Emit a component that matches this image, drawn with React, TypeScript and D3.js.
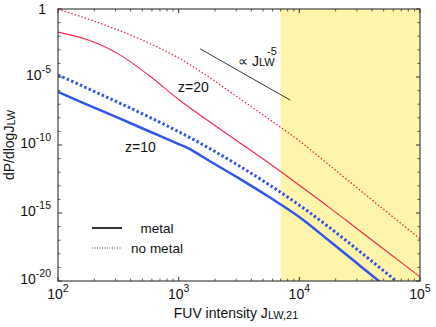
import React from "react";
import * as d3 from "d3";

const J = [100, 178, 316, 562, 1000, 1778, 3162, 5623, 10000, 17783, 31623, 56234, 100000];
const z20NoMetal = [0.97, 0.18, 2.8e-2, 3.2e-3, 2.5e-4, 1.0e-5, 2.8e-7, 7.9e-9, 2.0e-10, 3.2e-12, 5.0e-14, 7.9e-16, 1.26e-17];
const z20Metal = [2.0e-2, 5.2e-3, 5.0e-4, 1.4e-5, 2.2e-7, 5.6e-9, 1.6e-10, 4.5e-12, 1.1e-13, 2.5e-15, 5.0e-17, 1.0e-18, 2.0e-20];
const z10NoMetal = [1.4e-5, 1.4e-6, 1.35e-7, 1.2e-8, 9.5e-10, 6.0e-11, 3.0e-12, 1.2e-13, 3.8e-15, 8.5e-17, 1.5e-18, 2.4e-20, 4e-22];
const z10MetalJ = [100, 178, 316, 562, 1000, 1194, 1445, 1778, 3162, 5623, 10000, 17783, 31623, 56234];
const z10Metal = [8e-7, 8.7e-8, 9.8e-9, 1.07e-9, 1.17e-10, 6.0e-11, 2.2e-11, 7.2e-12, 3.5e-13, 1.5e-14, 5.1e-16, 8.7e-18, 1.4e-19, 2.2e-21];
const shadeRange = [7000, 100000];
const powerLawJ = [1500, 8400];
const powerLawP = [1.2e-3, 2.0e-7];
const xTickExps = [2, 3, 4, 5];
const yTickExps = [0, -5, -10, -15, -20];

const W = 436, H = 327;
const left = 58, right = 420, top = 9, bottom = 281;
const FONT = "'Liberation Sans', Arial, Helvetica, sans-serif";
const RED = "#f2254b";
const BLUE = "#3355ee";

export default function App() {
  const x = d3.scaleLog().domain([1e2, 1e5]).range([left, right]);
  const y = d3.scaleLog().domain([1e-20, 1]).range([bottom, top]);
  const line = d3.line<[number, number]>().x(d => x(d[0])).y(d => y(d[1])).curve(d3.curveMonotoneX);
  const zip = (xs: number[], ys: number[]) => xs.map((v, i) => [v, ys[i]] as [number, number]);

  const xMinor: number[] = [];
  for (let e = 2; e < 5; e++) for (let k = 2; k <= 9; k++) xMinor.push(k * Math.pow(10, e));
  const yMinor: number[] = [];
  for (let e = -20; e <= 0; e++) if (e % 5 !== 0) yMinor.push(Math.pow(10, e));

  return (
    <svg width={W} height={H} style={{ position: "absolute", left: 0, top: 0, background: "#fff" }} fontFamily={FONT}>
      <defs>
        <clipPath id="plot">
          <rect x={left} y={top} width={right - left} height={bottom - top} />
        </clipPath>
      </defs>
      <rect x={x(shadeRange[0])} y={top} width={x(shadeRange[1]) - x(shadeRange[0])} height={bottom - top} fill="#fff5aa" />
      <g clipPath="url(#plot)" fill="none">
        <path d={line(zip(J, z20NoMetal)) || ""} stroke={RED} strokeWidth={1.3} strokeDasharray="1.5,2" />
        <path d={line(zip(J, z20Metal)) || ""} stroke={RED} strokeWidth={1.1} />
        <path d={line(zip(J, z10NoMetal)) || ""} stroke={BLUE} strokeWidth={3} strokeDasharray="2.5,2.3" />
        <path d={line(zip(z10MetalJ, z10Metal)) || ""} stroke={BLUE} strokeWidth={2.5} />
        <line x1={x(powerLawJ[0])} y1={y(powerLawP[0])} x2={x(powerLawJ[1])} y2={y(powerLawP[1])} stroke="#222" strokeWidth={0.9} />
      </g>
      <rect x={left} y={top} width={right - left} height={bottom - top} fill="none" stroke="#333" strokeWidth={1.1} />
      {xTickExps.map(e => {
        const px = x(Math.pow(10, e));
        return (
          <g key={"xt" + e}>
            <line x1={px} x2={px} y1={bottom} y2={bottom - 4} stroke="#333" />
            <line x1={px} x2={px} y1={top} y2={top + 4} stroke="#333" />
            <text x={px} y={299} textAnchor="middle" fontSize={14} fill="#111">
              10<tspan dy={-7} fontSize={10.5}>{e}</tspan>
            </text>
          </g>
        );
      })}
      {xMinor.map((v, i) => (
        <g key={"xm" + i}>
          <line x1={x(v)} x2={x(v)} y1={bottom} y2={bottom - 2.5} stroke="#333" strokeWidth={0.8} />
          <line x1={x(v)} x2={x(v)} y1={top} y2={top + 2.5} stroke="#333" strokeWidth={0.8} />
        </g>
      ))}
      {yTickExps.map(e => {
        const py = y(Math.pow(10, e));
        return (
          <g key={"yt" + e}>
            <line x1={left} x2={left + 4} y1={py} y2={py} stroke="#333" />
            <line x1={right} x2={right - 4} y1={py} y2={py} stroke="#333" />
            {e === 0 ? (
              <text x={46} y={py + 5} textAnchor="end" fontSize={14} fill="#111">1</text>
            ) : (
              <text x={51} y={py + 3} textAnchor="end" fontSize={14} fill="#111">
                10<tspan dy={-7} fontSize={10.5}>{e}</tspan>
              </text>
            )}
          </g>
        );
      })}
      {yMinor.map((v, i) => (
        <g key={"ym" + i}>
          <line x1={left} x2={left + 2.5} y1={y(v)} y2={y(v)} stroke="#333" strokeWidth={0.8} />
          <line x1={right} x2={right - 2.5} y1={y(v)} y2={y(v)} stroke="#333" strokeWidth={0.8} />
        </g>
      ))}
      <text x={236} y={318} textAnchor="middle" fontSize={14} fill="#111">
        FUV intensity J<tspan fontSize={11} dy={1}>LW,21</tspan>
      </text>
      <text transform={`translate(14,145) rotate(-90)`} textAnchor="middle" fontSize={14} fill="#111">
        dP/dlogJ<tspan fontSize={11} dy={1}>LW</tspan>
      </text>
      <text x={178} y={92} fontSize={14} fill="#111">z=20</text>
      <text x={125} y={152} fontSize={14} fill="#111">z=10</text>
      <text x={238} y={66} fontSize={14} fill="#111">∝ J<tspan fontSize={11}>LW</tspan></text>
      <text x={267} y={55} fontSize={11} fill="#111">-5</text>
      <line x1={92} x2={122} y1={228} y2={228} stroke="#333" strokeWidth={2} />
      <line x1={92} x2={122} y1={248} y2={248} stroke="#333" strokeWidth={1} strokeDasharray="1,1.5" />
      <text x={157} y={233} textAnchor="middle" fontSize={13.5} fill="#111">metal</text>
      <text x={157} y={253} textAnchor="middle" fontSize={13.5} fill="#111">no metal</text>
    </svg>
  );
}
